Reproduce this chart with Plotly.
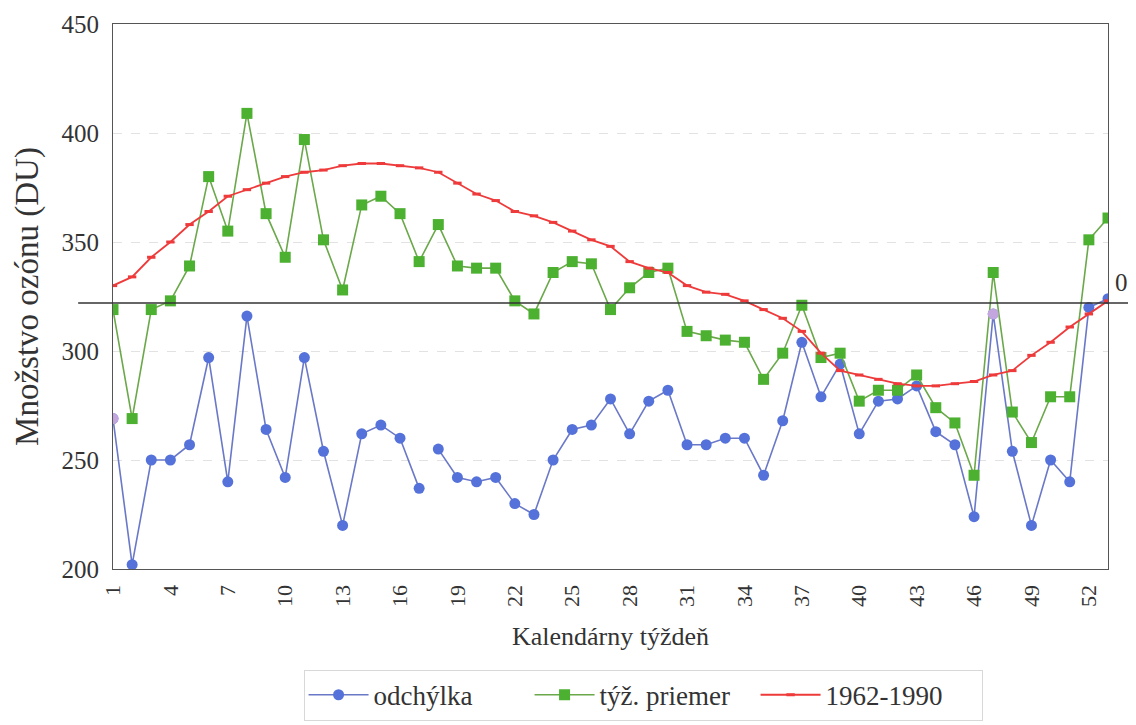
import plotly.graph_objects as go

weeks = list(range(1, 54))

# odchýlka (deviation, drawn at its position on the chart scale)
odchylka = [269, 202, 250, 250, 257, 297, 240, 316, 264, 242,
            297, 254, 220, 262, 266, 260, 237, 255, 242, 240,
            242, 230, 225, 250, 264, 266, 278, 262, 277, 282,
            257, 257, 260, 260, 243, 268, 304, 279, 294, 262,
            277, 278, 284, 263, 257, 224, 317, 254, 220, 250,
            240, 320, 324]

# týž. priemer (weekly average)
tyz_priemer = [319, 269, 319, 323, 339, 380, 355, 409, 363, 343,
               397, 351, 328, 367, 371, 363, 341, 358, 339, 338,
               338, 323, 317, 336, 341, 340, 319, 329, 336, 338,
               309, 307, 305, 304, 287, 299, 321, 297, 299, 277,
               282, 282, 289, 274, 267, 243, 336, 272, 258, 279,
               279, 351, 361]

# 1962-1990 long-term mean
normal = [330, 334, 343, 350, 358, 364, 371, 374, 377, 380,
          382, 383, 385, 386, 386, 385, 384, 382, 377, 372,
          369, 364, 362, 359, 355, 351, 348, 341, 338, 336,
          330, 327, 326, 323, 319, 315, 309, 299, 291, 289,
          287, 285, 284, 284, 285, 286, 289, 291, 298, 304,
          311, 317, 323]

zero_level = 322
tick_weeks = list(range(1, 53, 3))
gap_after_week = 17  # line break in odchýlka between weeks 17 and 18
highlight_weeks = [1, 47]

BLUE = "#5472d9"
BLUE_LINE = "#6a78c8"
LAVENDER = "#c4a6df"
GREEN = "#4cb030"
GREEN_LINE = "#6aa84a"
RED = "#ee3a3a"
FONT = "Liberation Serif, DejaVu Serif, serif"
TXT = "#333333"

fig = go.Figure()

idx = weeks.index(gap_after_week) + 1
segments = [(0, idx), (idx, len(weeks))]
for k, (a, b) in enumerate(segments):
    fig.add_trace(go.Scatter(
        x=weeks[a:b], y=odchylka[a:b], mode="lines+markers",
        name="odchýlka", legendgroup="odch", showlegend=(k == 0),
        line=dict(color=BLUE_LINE, width=1.6),
        marker=dict(color=BLUE, size=11, symbol="circle"),
    ))

fig.add_trace(go.Scatter(
    x=weeks, y=tyz_priemer, mode="lines+markers", name="týž. priemer",
    line=dict(color=GREEN_LINE, width=1.6),
    marker=dict(color=GREEN, size=11, symbol="square"),
))

fig.add_trace(go.Scatter(
    x=weeks, y=normal, mode="lines+markers", name="1962-1990",
    line=dict(color=RED, width=1.8),
    marker=dict(color=RED, size=6, symbol="line-ew", line=dict(color=RED, width=3)),
))

# highlighted odchýlka points
fig.add_trace(go.Scatter(
    x=highlight_weeks, y=[odchylka[weeks.index(w)] for w in highlight_weeks],
    mode="markers", showlegend=False, hoverinfo="skip",
    marker=dict(color=LAVENDER, size=11, symbol="circle"),
))

fig.add_shape(type="line", xref="paper", x0=-0.035, x1=1.04, y0=zero_level, y1=zero_level,
              line=dict(color="#333333", width=1.5), layer="above")
fig.add_annotation(x=weeks[-1], xref="x", y=zero_level, yref="y", text="0",
                   showarrow=False, xanchor="left", yanchor="bottom",
                   xshift=5, yshift=5, font=dict(family=FONT, size=25, color=TXT))

fig.update_layout(
    width=1128, height=717,
    margin=dict(l=105, r=28, t=16, b=156, autoexpand=False),
    plot_bgcolor="white", paper_bgcolor="white",
    font=dict(family=FONT, size=24, color=TXT),
    showlegend=True,
    legend=dict(orientation="h", x=0.563, xanchor="center", xref="container",
                y=0.006, yref="container", yanchor="bottom",
                bordercolor="#d8d8d8", borderwidth=1,
                font=dict(family=FONT, size=27, color=TXT),
                itemwidth=60, entrywidth=151, tracegroupgap=0),
    xaxis=dict(range=[1, 53], tickmode="array", tickvals=tick_weeks,
               ticktext=[str(t) for t in tick_weeks], tickangle=-90,
               showgrid=False, zeroline=False,
               showline=True, mirror=True, linecolor="#555555", linewidth=1.2,
               ticklabelstandoff=6,
               tickfont=dict(family=FONT, size=22, color=TXT),
               title=dict(text="Kalendárny týždeň", standoff=20,
                          font=dict(family=FONT, size=26, color=TXT))),
    yaxis=dict(range=[200, 450], tickvals=[200, 250, 300, 350, 400, 450],
               showgrid=True, gridcolor="#e2e2e2", griddash="dash", gridwidth=1,
               zeroline=False,
               showline=True, mirror=True, linecolor="#555555", linewidth=1.2,
               ticklabelstandoff=8,
               tickfont=dict(family=FONT, size=25, color=TXT),
               title=dict(text="Množstvo ozónu (DU)", standoff=12,
                          font=dict(family=FONT, size=33, color=TXT))),
)

fig.write_html("out.html")
